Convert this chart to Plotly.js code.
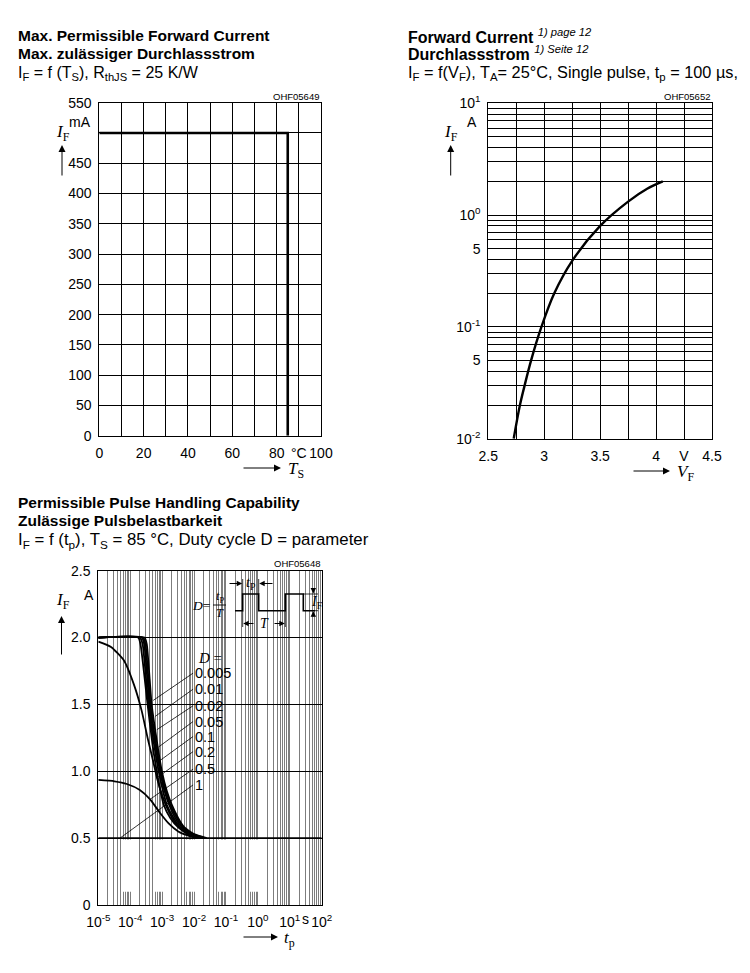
<!DOCTYPE html>
<html><head><meta charset="utf-8">
<script src="https://cdn.plot.ly/plotly-3.0.1.min.js"></script>
<style>html,body{margin:0;padding:0;background:#fff}#chart{width:750px;height:973px}</style>
</head><body><div id="chart"></div>
<script>
// ---------- Chart 1: Max. permissible forward current ----------
const c1Ts = [0, 85, 85];
const c1If = [500, 500, 0];
const c1XTicks = [0, 20, 40, 60, 80, 90, 100];
const c1XText  = ['0', '20', '40', '60', '80', '°C', '100'];
const c1XMinor = [10, 30, 50, 70];
const c1YTicks = [0, 50, 100, 150, 200, 250, 300, 350, 400, 450, 550];
const c1YText  = ['0', '50', '100', '150', '200', '250', '300', '350', '400', '450', '550'];
const c1YMinor = [500];

// ---------- Chart 2: Forward current vs forward voltage ----------
const c2Vf = [2.727, 2.783, 2.825, 2.882, 2.975, 3.09, 3.25, 3.5, 3.75, 3.92, 4.06];
const c2If = [0.01, 0.02, 0.03, 0.05, 0.1, 0.2, 0.39, 0.8, 1.32, 1.72, 2.0];
const c2XTicks = [2.5, 3, 3.5, 4, 4.25, 4.5];
const c2XText  = ['2.5', '3', '3.5', '4', 'V', '4.5'];
const c2XMinor = [2.75, 3.25, 3.75];
const c2YTicks = [0.01, 0.05, 0.1, 0.5, 1, 10];
const c2YText  = ['10<sup>-2</sup>', '5', '10<sup>-1</sup>', '5', '10<sup>0</sup>', '10<sup>1</sup>'];

// ---------- Chart 3: Permissible pulse handling capability ----------
const dLabels = ['0.005', '0.01', '0.02', '0.05', '0.1', '0.2', '0.5', '1'];
const tD005 = [1e-5, 2.8e-4, 3.3e-4, 4.7e-4, 7.1e-4, 9.8e-4, 1.41e-3, 2e-3, 3.2e-3, 5e-3, 1e-2, 2.5e-2];
const iD005 = [2.0, 2.0, 1.95, 1.5, 1.2, 1.0, 0.85, 0.75, 0.65, 0.58, 0.53, 0.5];
const tD01  = [1e-5, 2.5e-4, 3e-4, 4.3e-4, 6.5e-4, 9.2e-4, 1.3e-3, 1.8e-3, 2.9e-3, 4.6e-3, 9e-3, 2.2e-2];
const iD01  = [2.0, 2.0, 1.95, 1.5, 1.2, 1.0, 0.85, 0.75, 0.65, 0.58, 0.53, 0.5];
const tD02  = [1e-5, 2.3e-4, 2.75e-4, 4e-4, 6.1e-4, 8.6e-4, 1.2e-3, 1.65e-3, 2.6e-3, 4.2e-3, 8e-3, 1.9e-2];
const iD02  = [2.0, 2.0, 1.95, 1.5, 1.2, 1.0, 0.85, 0.75, 0.65, 0.58, 0.53, 0.5];
const tD05  = [1e-5, 2.0e-4, 2.45e-4, 3.7e-4, 5.6e-4, 7.8e-4, 1.07e-3, 1.4e-3, 2.3e-3, 3.7e-3, 7e-3, 1.6e-2];
const iD05  = [2.0, 2.0, 1.95, 1.5, 1.2, 1.0, 0.85, 0.75, 0.65, 0.58, 0.53, 0.5];
const tD1   = [1e-5, 1.78e-4, 2.1e-4, 3.5e-4, 5e-4, 6.8e-4, 8.9e-4, 1.12e-3, 1.8e-3, 3.2e-3, 6.3e-3, 1.2e-2];
const iD1   = [2.0, 2.0, 1.95, 1.5, 1.2, 1.0, 0.85, 0.75, 0.65, 0.58, 0.53, 0.5];
const tD2   = [1e-5, 2.5e-5, 6.3e-5, 1.3e-4, 2.3e-4, 3.5e-4, 5.3e-4, 6.9e-4, 1e-3, 1.6e-3, 2.5e-3, 5e-3, 1e-2, 2e-2];
const iD2   = [1.97, 1.93, 1.83, 1.65, 1.45, 1.25, 1.07, 0.95, 0.82, 0.70, 0.62, 0.55, 0.51, 0.5];
const tD5   = [1e-5, 3.2e-5, 7.9e-5, 2e-4, 4.2e-4, 8.5e-4, 1.6e-3, 3.2e-3, 6.3e-3, 1.26e-2];
const iD5   = [0.935, 0.925, 0.905, 0.86, 0.79, 0.69, 0.61, 0.55, 0.52, 0.5];
const tD10  = [1e-5, 1e2];
const iD10  = [0.5, 0.5];
const c3XDecades = [-5, -4, -3, -2, -1, 0, 1, 2];
const c3XDecadeText = ['10<sup>-5</sup>', '10<sup>-4</sup>', '10<sup>-3</sup>', '10<sup>-2</sup>', '10<sup>-1</sup>', '10<sup>0</sup>', '10<sup>1</sup>', '10<sup>2</sup>'];
const c3YTicks = [0, 0.5, 1, 1.5, 2, 2.5];
const c3YText  = ['0', '0.5', '1.0', '1.5', '2.0', '2.5'];

// ---------- helpers ----------
const W = 750, H = 973;
const px = x => x / W, py = y => 1 - y / H;
const FONT = 'Liberation Sans', SERIF = 'Liberation Serif';
const GRAY = '#7d7d7d';

function axis(extra) {
  return Object.assign({
    showline: true, mirror: true, linecolor: '#000', linewidth: 1,
    ticks: '', showgrid: true, gridcolor: '#000', gridwidth: 1, zeroline: false,
    tickfont: {family: FONT, size: 14, color: '#000'}, tickmode: 'array',
    ticklabelstandoff: 4, fixedrange: true
  }, extra);
}
function minorGrid(vals, color) {
  return {tickmode: 'array', tickvals: vals, ticks: '', showgrid: true, gridcolor: color || '#000', gridwidth: 1};
}

// chart 2 y minor grid: all other digits of every decade
const c2YMinor = [];
[0.01, 0.1, 1].forEach(d => { for (let m = 1; m <= 9; m++) { const v = +(m * d).toPrecision(3); if (!c2YTicks.includes(v)) c2YMinor.push(v); } });

// chart 3 x grid
const c3XTicks = c3XDecades.map(d => Math.pow(10, d));
const c3XMinor = [], c3LowTicks = [];
c3XDecades.slice(0, -1).forEach(d => {
  for (let m = 2; m <= 9; m++) {
    const v = m * Math.pow(10, d);
    c3XMinor.push(v);
    if (m <= 5) c3LowTicks.push(v);
  }
});

const lineStyle = w => ({color: '#000', width: w});
const traces = [
  {x: c1Ts, y: c1If, xaxis: 'x', yaxis: 'y', mode: 'lines', line: lineStyle(2.6)},
  {x: c2Vf, y: c2If, xaxis: 'x2', yaxis: 'y2', mode: 'lines', line: Object.assign(lineStyle(2.4), {shape: 'spline', smoothing: 1})},
];
[[tD10, iD10], [tD5, iD5], [tD2, iD2], [tD1, iD1], [tD05, iD05], [tD02, iD02], [tD01, iD01], [tD005, iD005]].forEach(([t, i]) => {
  traces.push({x: t, y: i, xaxis: 'x3', yaxis: 'y3', mode: 'lines', line: Object.assign(lineStyle(1.8), {shape: 'spline', smoothing: 0.5})});
});
traces.push({x: [], y: [], xaxis: 'x5', yaxis: 'y5', mode: 'lines'});

const ann = [];
function text(t, x, y, o) {
  ann.push(Object.assign({text: t, x: px(x), y: py(y), xref: 'paper', yref: 'paper', showarrow: false,
    xanchor: 'left', yanchor: 'middle', font: {family: FONT, size: 14, color: '#000'}}, o || {}));
}
function arrow(x1, y1, x0, y0, o) { // head at (x1,y1), tail at (x0,y0) in pixels
  ann.push(Object.assign({text: ' ', x: px(x1), y: py(y1), xref: 'paper', yref: 'paper', showarrow: true,
    ax: x0 - x1, ay: y0 - y1, axref: 'pixel', ayref: 'pixel', arrowhead: 2, arrowsize: 1.4, arrowwidth: 1, arrowcolor: '#000'}, o || {}));
}
const IF = '<i>I</i><sub>F</sub>';
const sf = (s) => ({family: SERIF, size: s, color: '#000'});
const ff = (s) => ({family: FONT, size: s, color: '#000'});

// Titles
text('<b>Max. Permissible Forward Current</b>', 16, 35.5, {font: ff(15.5)});
text('<b>Max. zulässiger Durchlassstrom</b>', 16, 53, {font: ff(15.5)});
text('I<sub>F</sub> = f (T<sub>S</sub>), R<sub>thJS</sub> = 25 K/W', 16, 73.5, {font: ff(16)});
text('<b>Forward Current</b> <i><sup>1) page 12</sup></i>', 406, 35.5, {font: ff(16)});
text('<b>Durchlassstrom</b> <i><sup>1) Seite 12</sup></i>', 406, 53, {font: ff(16)});
text('I<sub>F</sub> = f(V<sub>F</sub>), T<sub>A</sub>= 25°C, Single pulse, t<sub>p</sub> = 100 µs,', 406, 73.5, {font: ff(16.3)});
text('<b>Permissible Pulse Handling Capability</b>', 16, 502, {font: ff(15.5)});
text('<b>Zulässige Pulsbelastbarkeit</b>', 16, 520, {font: ff(15.5)});
text('I<sub>F</sub> = f (t<sub>p</sub>), T<sub>S</sub> = 85 °C, Duty cycle D = parameter', 16, 540.5, {font: ff(16.8)});
// codes
text('OHF05649', 321, 96, {xanchor: 'right', font: ff(9.5)});
text('OHF05652', 712, 96, {xanchor: 'right', font: ff(9.5)});
text('OHF05648', 322, 563.5, {xanchor: 'right', font: ff(9.5)});
// units
text('mA', 93, 122, {xanchor: 'right'});
text('A', 472, 122, {xanchor: 'center'});
text('A', 89, 595, {xanchor: 'center'});
ann.push({text: 's', x: 1.5, xref: 'x3', y: py(919), yref: 'paper', showarrow: false, xanchor: 'center', yanchor: 'middle', font: ff(14)});
// axis symbols
text(IF, 63, 133, {xanchor: 'center', font: sf(17)});
arrow(62, 145, 62, 185);
text(IF, 451, 133, {xanchor: 'center', font: sf(17)});
arrow(450.7, 145, 450.7, 185);
text(IF, 63, 601, {xanchor: 'center', font: sf(17)});
arrow(61.5, 616, 61.5, 664);
arrow(281, 468, 240, 468);
text('<i>T</i><sub>S</sub>', 286, 470, {font: sf(17)});
arrow(670, 471, 630, 471);
text('<i>V</i><sub>F</sub>', 675, 473, {font: sf(17)});
arrow(278, 937, 240, 937);
text('<i>t</i><sub>p</sub>', 282, 939, {font: sf(17)});

// D legend
text('<i>D</i> =', 196, 658, {font: sf(15)});
const dLabelY = [1.734, 1.614, 1.49, 1.372, 1.26, 1.147, 1.016, 0.898];
const leaderTargets = [[-3.28, 1.53], [-3.22, 1.41], [-3.17, 1.31], [-3.12, 1.18], [-3.07, 1.08], [-3.17, 0.95], [-3.38, 0.79], [-4.32, 0.5]];
dLabels.forEach((lab, k) => {
  ann.push({text: lab, xref: 'x3', yref: 'y3', x: leaderTargets[k][0], y: leaderTargets[k][1],
    axref: 'x3', ayref: 'y3', ax: -2.03, ay: dLabelY[k], showarrow: true, arrowhead: 0, arrowwidth: 0.8,
    arrowcolor: '#000', xanchor: 'left', yanchor: 'middle', font: ff(14.5)});
});

// Inset diagram (pulse definition) and white boxes
const shapes = [];
function seg(x0, y0, x1, y1, w) {
  shapes.push({type: 'line', xref: 'paper', yref: 'paper', x0: px(x0), y0: py(y0), x1: px(x1), y1: py(y1), line: {color: '#000', width: w || 0.8}});
}
shapes.push({type: 'rect', xref: 'paper', yref: 'paper', x0: px(196), x1: px(321), y0: py(635), y1: py(571.5), fillcolor: '#fff', line: {width: 0}, layer: 'between'});
shapes.push({type: 'rect', xref: 'paper', yref: 'paper', x0: px(187), x1: px(236), y0: py(797), y1: py(644), fillcolor: '#fff', line: {width: 0}, layer: 'between'});
shapes.push({type: 'rect', xref: 'x3', yref: 'y3', x0: -5, x1: 2, y0: 0.1, y1: 0.49, fillcolor: '#fff', line: {width: 0}, layer: 'between'});
const lo = 610.7, hi = 594;
const wave = [[235, lo], [242.7, lo], [242.7, hi], [258.7, hi], [258.7, lo], [285.3, lo], [285.3, hi], [303.3, hi], [303.3, lo], [315, lo]];
shapes.push({type: 'path', xref: 'paper', yref: 'paper', path: 'M' + wave.map(p => px(p[0]) + ',' + py(p[1])).join(' L'), line: {color: '#000', width: 1.6}});
seg(242.7, hi, 242.7, 579); seg(258.7, hi, 258.7, 579);
seg(242.7, lo, 242.7, 627); seg(285.3, lo, 285.3, 627);
seg(303.3, hi, 318, hi); seg(315, lo, 318, lo);
seg(213, 605, 226, 605, 0.9);
arrow(242.2, 583.5, 226, 583.5, {arrowsize: 1.1});
arrow(259.2, 583.5, 276, 583.5, {arrowsize: 1.1});
arrow(243.2, 623.5, 257, 623.5, {arrowsize: 1.1});
arrow(284.8, 623.5, 271, 623.5, {arrowsize: 1.1});
arrow(313.3, 593.5, 313.3, 580, {arrowsize: 1.1});
arrow(313.3, 611.2, 313.3, 626, {arrowsize: 1.1});
text('<i>t</i><sub>P</sub>', 251, 583, {xanchor: 'center', font: sf(14)});
text('<i>T</i>', 264, 623.5, {xanchor: 'center', font: sf(14)});
text('<i>I</i><sub>F</sub>', 317, 602.5, {xanchor: 'center', font: sf(14)});
text('<i>D</i>=', 212, 605, {xanchor: 'right', font: sf(13.5)});
text('<i>t</i><sub>P</sub>', 219.5, 597, {xanchor: 'center', font: sf(12.5)});
text('<i>T</i>', 219.5, 613, {xanchor: 'center', font: sf(12.5)});

const layout = {
  width: W, height: H, margin: {l: 0, r: 0, t: 0, b: 0},
  paper_bgcolor: '#fff', plot_bgcolor: 'rgba(0,0,0,0)', showlegend: false,
  font: {family: FONT, color: '#000', size: 14},
  xaxis: axis({domain: [px(99.3), px(321)], range: [0, 100], anchor: 'y', tickvals: c1XTicks, ticktext: c1XText, minor: minorGrid(c1XMinor)}),
  yaxis: axis({domain: [py(435.7), py(102.7)], range: [0, 550], anchor: 'x', tickvals: c1YTicks, ticktext: c1YText, minor: minorGrid(c1YMinor)}),
  xaxis2: axis({domain: [px(488.3), px(712)], range: [2.5, 4.5], anchor: 'y2', tickvals: c2XTicks, ticktext: c2XText, minor: minorGrid(c2XMinor)}),
  yaxis2: axis({type: 'log', domain: [py(438.7), py(103.3)], range: [-2, 1], anchor: 'x2', tickvals: c2YTicks, ticktext: c2YText, minor: minorGrid(c2YMinor)}),
  xaxis3: axis({type: 'log', domain: [px(98.3), px(321.7)], range: [-5, 2], anchor: 'y3', tickvals: c3XTicks, ticktext: c3XDecadeText, gridcolor: GRAY, minor: minorGrid(c3XMinor, GRAY)}),
  yaxis3: axis({domain: [py(905), py(570.7)], range: [0, 2.5], anchor: 'x3', tickvals: c3YTicks, ticktext: c3YText}),
  xaxis5: axis({type: 'log', domain: [px(98.3), px(321.7)], range: [-5, 2], anchor: 'y5', tickvals: c3LowTicks, showticklabels: false, gridcolor: GRAY, showline: false}),
  yaxis5: axis({domain: [py(892), py(839)], range: [0, 1], anchor: 'x5', showgrid: false, showline: false, showticklabels: false}),
  annotations: ann, shapes: shapes
};
Plotly.newPlot('chart', traces, layout, {staticPlot: true, displayModeBar: false});
</script></body></html>
